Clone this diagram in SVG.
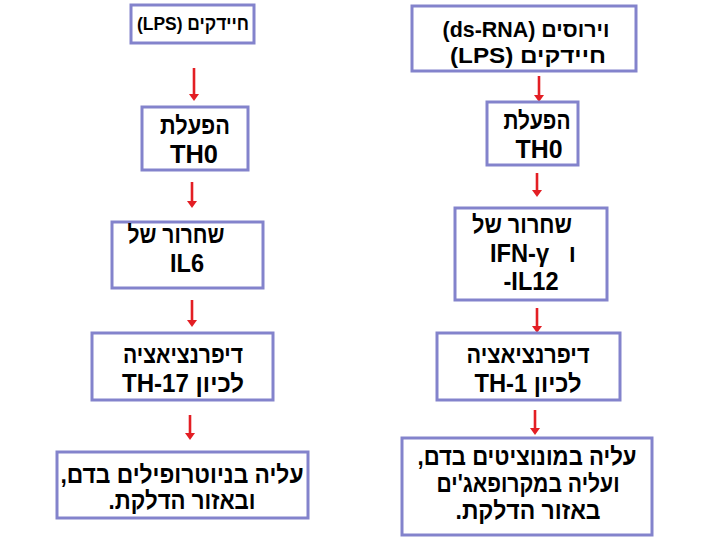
<svg xmlns="http://www.w3.org/2000/svg" width="720" height="540" viewBox="0 0 720 540">
<style>
.box{fill:#fff;stroke:#8383cc;stroke-width:3}
.t{font-family:"Liberation Sans",Arial,sans-serif;font-weight:bold;font-size:25px;fill:#000;text-anchor:middle;white-space:pre}
.rtl{direction:rtl;unicode-bidi:embed}
.s{font-size:22px}
.s2{font-size:19px}
.arr{stroke:#e31e24;stroke-width:2.6;fill:none;marker-end:url(#ah)}
</style>
<defs>
<marker id="ah" viewBox="0 0 7 10" refX="0" refY="5" markerWidth="7" markerHeight="10" markerUnits="userSpaceOnUse" orient="auto">
<path d="M0,0 L7,5 L0,10 z" fill="#e31e24"/>
</marker>
</defs>
<rect width="720" height="540" fill="#fff"/>
<g id="connectors">
<line class="arr" x1="194" y1="68" x2="194" y2="94"/>
<line class="arr" x1="192" y1="182" x2="192" y2="201"/>
<line class="arr" x1="192" y1="300" x2="192" y2="320"/>
<line class="arr" x1="190" y1="415" x2="190" y2="433"/>
<line class="arr" x1="539" y1="76" x2="539" y2="95"/>
<line class="arr" x1="537" y1="173" x2="537" y2="190"/>
<line class="arr" x1="537" y1="308" x2="537" y2="326"/>
<line class="arr" x1="535" y1="410" x2="535" y2="428"/>
</g>
<g id="L1">
<rect class="box" x="131" y="5" width="123" height="38"/>
<text class="t s2 rtl" x="193" y="30" textLength="112" lengthAdjust="spacingAndGlyphs">חיידקים (LPS)</text>
</g>
<g id="L2">
<rect class="box" x="142" y="107" width="106" height="63"/>
<text class="t rtl" x="195" y="134" textLength="70" lengthAdjust="spacingAndGlyphs">הפעלת</text>
<text class="t" x="194" y="163" textLength="48" lengthAdjust="spacingAndGlyphs">TH0</text>
</g>
<g id="L3">
<rect class="box" x="112" y="222" width="151" height="66"/>
<text class="t rtl" x="176" y="243" textLength="97" lengthAdjust="spacingAndGlyphs">שחרור של</text>
<text class="t" x="187" y="272" textLength="34" lengthAdjust="spacingAndGlyphs">IL6</text>
</g>
<g id="L4">
<rect class="box" x="92" y="333" width="181" height="67"/>
<text class="t rtl" x="183" y="363" textLength="120" lengthAdjust="spacingAndGlyphs">דיפרנציאציה</text>
<text class="t rtl" x="183" y="392" textLength="122" lengthAdjust="spacingAndGlyphs">לכיון TH-17</text>
</g>
<g id="L5">
<rect class="box" x="57" y="452" width="251" height="66"/>
<text class="t rtl" x="182" y="483" textLength="243" lengthAdjust="spacingAndGlyphs">עליה בניוטרופילים בדם,</text>
<text class="t rtl" x="182" y="509" textLength="147" lengthAdjust="spacingAndGlyphs">ובאזור הדלקת.</text>
</g>
<g id="R1">
<rect class="box" x="412" y="6" width="224" height="65"/>
<text class="t s rtl" x="526" y="37" textLength="167" lengthAdjust="spacingAndGlyphs">וירוסים (ds-RNA)</text>
<text class="t s rtl" x="528" y="63" textLength="156" lengthAdjust="spacingAndGlyphs">חיידקים (LPS)</text>
</g>
<g id="R2">
<rect class="box" x="487" y="102" width="91" height="63"/>
<text class="t rtl" x="537" y="129" textLength="67" lengthAdjust="spacingAndGlyphs">הפעלת</text>
<text class="t" x="539" y="158" textLength="47" lengthAdjust="spacingAndGlyphs">TH0</text>
</g>
<g id="R3">
<rect class="box" x="455" y="208" width="152" height="92"/>
<text class="t rtl" x="522" y="233" textLength="100" lengthAdjust="spacingAndGlyphs">שחרור של</text>
<text class="t rtl" x="533" y="262" textLength="86" lengthAdjust="spacingAndGlyphs">ו   IFN-γ</text>
<text class="t" x="531" y="290" textLength="55" lengthAdjust="spacingAndGlyphs">-IL12</text>
</g>
<g id="R4">
<rect class="box" x="437" y="333" width="183" height="67"/>
<text class="t rtl" x="528" y="363" textLength="123" lengthAdjust="spacingAndGlyphs">דיפרנציאציה</text>
<text class="t rtl" x="528" y="392" textLength="107" lengthAdjust="spacingAndGlyphs">לכיון TH-1</text>
</g>
<g id="R5">
<rect class="box" x="402" y="438" width="250" height="97"/>
<text class="t rtl" x="527" y="465" textLength="219" lengthAdjust="spacingAndGlyphs">עליה במונוציטים בדם,</text>
<text class="t rtl" x="528" y="492" textLength="183" lengthAdjust="spacingAndGlyphs">ועליה במקרופאג'ים</text>
<text class="t rtl" x="528" y="519" textLength="145" lengthAdjust="spacingAndGlyphs">באזור הדלקת.</text>
</g>
</svg>
